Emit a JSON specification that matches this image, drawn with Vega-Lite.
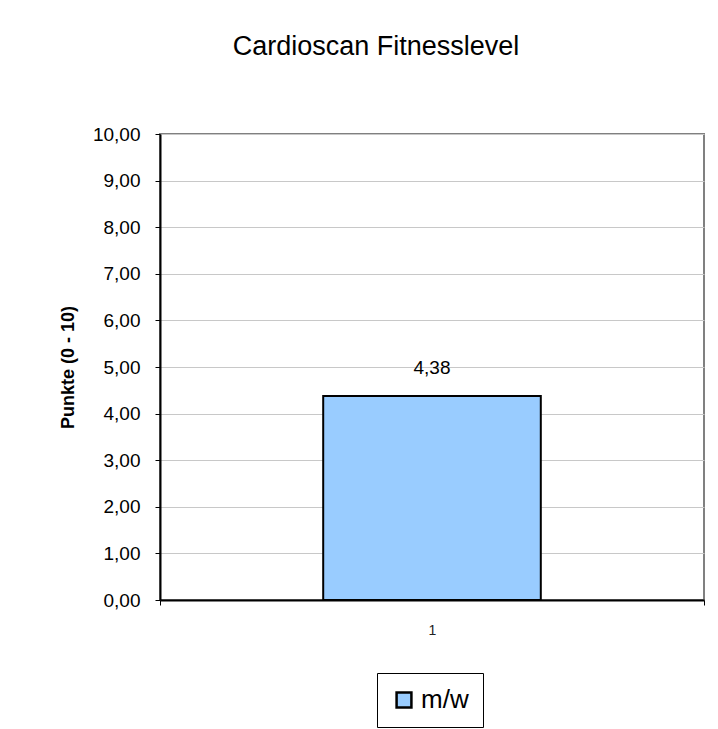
{
  "$schema": "https://vega.github.io/schema/vega-lite/v6.json",
  "width": 544,
  "height": 466,
  "autosize": {"type": "none"},
  "padding": {"left": 160, "top": 134, "right": 14, "bottom": 129},
  "background": "white",
  "config": {
    "locale": {"number": {"decimal": ",", "thousands": ".", "grouping": [3], "currency": ["", " €"]}},
    "view": {"stroke": "#808080", "strokeWidth": 2},
    "font": "Liberation Sans"
  },
  "title": {
    "text": "Cardioscan Fitnesslevel",
    "fontSize": 27,
    "fontWeight": "normal",
    "color": "black",
    "anchor": "middle",
    "dx": -56,
    "offset": 64,
    "font": "Liberation Sans"
  },
  "data": {"values": [{"category": "1", "value": 4.38, "series": "m/w"}]},
  "encoding": {
    "x": {
      "field": "category",
      "type": "nominal",
      "scale": {"paddingInner": 0, "paddingOuter": 0},
      "axis": {
        "title": null,
        "labelAngle": 0,
        "tickBand": "extent",
        "ticks": true,
        "tickSize": 5,
        "tickColor": "black",
        "domainColor": "black",
        "domainWidth": 2,
        "labelFontSize": 14,
        "labelColor": "#222222",
        "labelPadding": 18,
        "grid": false
      }
    },
    "y": {
      "field": "value",
      "type": "quantitative",
      "scale": {"domain": [0, 10], "nice": false},
      "axis": {
        "values": [0, 1, 2, 3, 4, 5, 6, 7, 8, 9, 10],
        "format": ".2f",
        "labelFontSize": 19,
        "labelColor": "black",
        "labelPadding": 15,
        "tickSize": 5,
        "tickColor": "black",
        "domainColor": "black",
        "domainWidth": 2,
        "gridColor": "#c8c8c8",
        "title": "Punkte (0 - 10)",
        "titleFontSize": 18,
        "titleFontWeight": "bold",
        "titleColor": "black",
        "titlePadding": 15
      }
    }
  },
  "layer": [
    {
      "mark": {"type": "bar", "stroke": "black", "strokeWidth": 2, "width": {"band": 0.4}},
      "encoding": {
        "color": {
          "field": "series",
          "type": "nominal",
          "scale": {"range": ["#99ccff"]},
          "legend": {
            "orient": "none",
            "legendX": 217,
            "legendY": 539,
            "title": null,
            "strokeColor": "black",
            "fillColor": "white",
            "padding": 14,
            "labelFontSize": 26,
            "labelColor": "black",
            "symbolType": "square",
            "symbolSize": 220,
            "symbolStrokeColor": "black",
            "symbolStrokeWidth": 2.5
          }
        }
      }
    },
    {
      "mark": {"type": "text", "dy": -28, "fontSize": 19, "color": "black"},
      "encoding": {
        "text": {"field": "value", "type": "quantitative", "format": ".2f"}
      }
    }
  ]
}
